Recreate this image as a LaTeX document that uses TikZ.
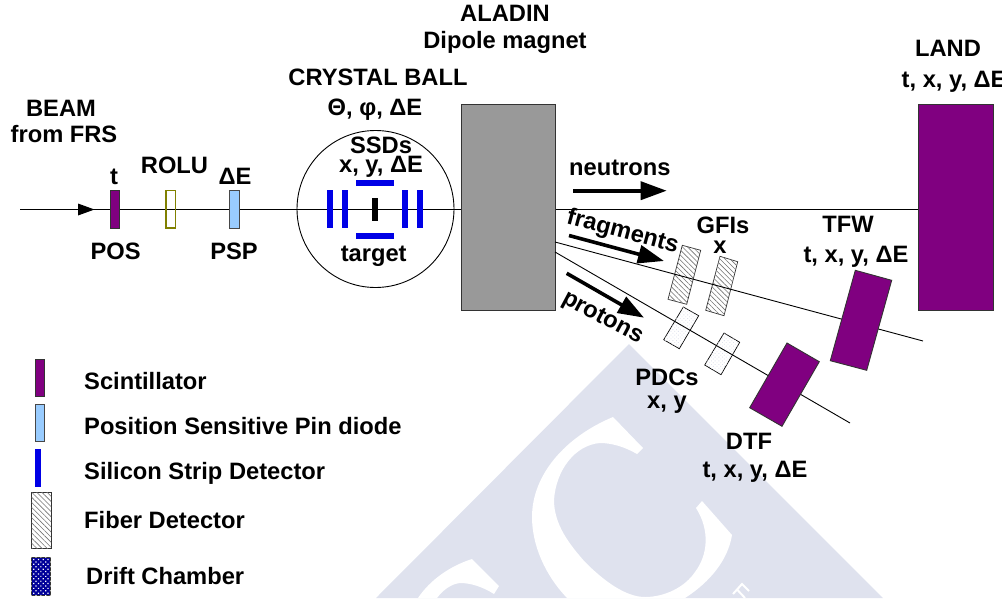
\documentclass[tikz,border=0pt]{standalone}
\usepackage{fontspec}
\setmainfont{Liberation Sans}[BoldFont={Liberation Sans Bold}]
\usetikzlibrary{arrows.meta,patterns,patterns.meta}
\definecolor{wm}{HTML}{DFE2EE}
\definecolor{scint}{HTML}{800080}
\definecolor{psp}{HTML}{99CCFF}
\definecolor{ssd}{HTML}{0000E6}
\definecolor{mag}{HTML}{999999}
\definecolor{rolu}{HTML}{808000}
\definecolor{edge}{HTML}{333333}
\tikzset{
  lbl/.style={font=\bfseries\fontsize{23.7}{28}\selectfont,inner sep=0pt,anchor=base,text=black},
  lbw/.style={lbl,anchor=base west},
  wire/.style={draw=black,line width=0.9pt},
  scintbox/.style={fill=scint,draw=edge,line width=0.9pt},
  pspbox/.style={fill=psp,draw=edge!90,line width=1pt},
  rolubox/.style={draw=rolu,line width=1.5pt},
  ssdbox/.style={fill=ssd,draw=none},
  magbox/.style={fill=mag,draw=edge,line width=0.9pt},
  fiberbox/.style={draw=black!80,line width=0.7pt,fill=white,postaction={pattern={Lines[angle=-45,distance=3.6pt,line width=0.6pt]},pattern color=black!55}},
  pdcbox/.style={draw=black,line width=0.7pt,fill=white,postaction={pattern={Dots[angle=45,distance=2.6pt,radius=0.6pt]},pattern color=wm}},
  driftbox/.style={draw=edge,line width=0.7pt,fill=blue!60!black,postaction={pattern={Dots[angle=45,distance=3.4pt,radius=0.85pt]},pattern color=white}},
  flow/.style={line width=3.6pt,draw=black,-{Triangle[length=26pt,width=18pt]}},
}
\begin{document}
\begin{tikzpicture}[x=1pt,y=-1pt]
\useasboundingbox (0,0) rectangle (1005,598);
% watermark
\fill[wm] (629,344) -- (376,598) -- (883,598) -- cycle;
\fill[white] (613,417) -- (643,448) -- (637,454)
  .. controls (625,447) and (612,443) .. (600,443)
  .. controls (575,445) and (556,470) .. (554,500)
  .. controls (554,525) and (570,545) .. (585,562)
  .. controls (603,580) and (625,597) .. (645,597)
  .. controls (665,597) and (685,587) .. (695,572)
  .. controls (708,555) and (710,530) .. (696,508)
  -- (702,501) -- (732,535)
  .. controls (728,560) and (710,582) .. (685,598)
  -- (567,598)
  .. controls (545,575) and (532,545) .. (532,517)
  .. controls (532,475) and (565,437) .. (613,417) -- cycle;
\fill[white] (472,559) -- (499,586) -- (494,594)
  .. controls (483,587) and (471,583) .. (460,583)
  .. controls (451,584) and (443,590) .. (437,598)
  -- (418,598) .. controls (430,580) and (450,566) .. (472,559) -- cycle;
\draw[white,line width=2pt] (733,594) -- (742,584) -- (749,591) (737,589.5) -- (745,598);
% beam lines
\coordinate (beamL) at (20,209.5);
\coordinate (magL) at (461.5,209.5);
\coordinate (magR) at (555,209.5);
\coordinate (landL) at (918,209.5);
\coordinate (fragS) at (555,242);
\coordinate (fragE) at (923,341);
\coordinate (protS) at (555,252);
\coordinate (protE) at (850,423);
\draw[wire] (beamL) -- (magL);
\draw[wire] (magR) -- (landL);
\fill[black] (78,203.5) -- (94.5,209.5) -- (78,215.5) -- cycle;
% upstream detectors
\draw[scintbox] (110,190) rectangle (119.5,228);
\draw[rolubox] (166,190.5) rectangle (175.5,228.2);
\draw[pspbox] (229.5,190.3) rectangle (239,228.2);
% crystal ball
\node[circle,draw=black,line width=0.9pt,minimum size=157pt,inner sep=0pt] (ball) at (375.5,209) {};
\fill[ssd] (326.7,190.3) rectangle (332.7,228);
\fill[ssd] (341.7,190.3) rectangle (347.7,228);
\fill[ssd] (401.7,190.3) rectangle (407.7,228);
\fill[ssd] (416.7,190.3) rectangle (422.7,228);
\fill[ssd] (356,180.3) rectangle (393.7,186.3);
\fill[ssd] (356,233) rectangle (393.7,238.7);
\fill[black] (371.7,197.7) rectangle (377.7,220.7);
% magnet and LAND
\draw[magbox] (461.5,104.5) rectangle (555,310.5);
\draw[scintbox] (918,104.5) rectangle (993,310.5);
% fibers, PDCs
\draw[fiberbox] (682.3,245.3) -- (700.7,250.3) -- (686.7,304.3) -- (668,299.3) -- cycle;
\draw[fiberbox] (720,256.3) -- (737.7,261.7) -- (724,315.7) -- (705.7,310.3) -- cycle;
\draw[pdcbox] (683.3,307) -- (698.7,315.7) -- (679.3,348.7) -- (663.7,339.7) -- cycle;
\draw[pdcbox] (724,333) -- (739.7,342.3) -- (721,374.7) -- (704.7,365) -- cycle;
\draw[wire] (fragS) -- (fragE);
\draw[wire] (protS) -- (protE);
\draw[scintbox] (855.3,270.3) -- (891.7,280.3) -- (866.7,370.3) -- (830.3,360.7) -- cycle;
\draw[scintbox] (787,343) -- (819.3,361.7) -- (782,426.3) -- (749.7,407.7) -- cycle;
% flow arrows
\draw[flow] (573,190.7) -- (666.7,190.7);
\draw[flow] (569,235.5) -- (664,261);
\draw[flow] (566.7,273.3) -- (644,317.7);
% legend
\draw[scintbox] (35,359) rectangle (44.7,396.7);
\draw[pspbox] (35,404) rectangle (44.7,441.3);
\draw[ssdbox] (35,448.7) rectangle (41,486.7);
\draw[fiberbox] (31.7,492.7) rectangle (51,548.7);
\draw[driftbox] (31.3,557.3) rectangle (50.7,595.3);
\node[lbw] (l1) at (84,389.5) {Scintillator};
\node[lbw] (l2) at (84,434) {Position Sensitive Pin diode};
\node[lbw] (l3) at (84,479) {Silicon Strip Detector};
\node[lbw] (l4) at (84,528) {Fiber Detector};
\node[lbw] (l5) at (86,584) {Drift Chamber};
% labels
\begin{scope}
\clip (0,0) rectangle (1001,598);
\node[lbl] (a1) at (61,116.5) {BEAM};
\node[lbl] (a2) at (64,142) {from FRS};
\node[lbl] (a3) at (114,184) {t};
\node[lbl] (a4) at (174.5,173.5) {ROLU};
\node[lbl] (a5) at (235,184) {ΔE};
\node[lbl] (a6) at (115.7,259) {POS};
\node[lbl] (a7) at (234,259) {PSP};
\node[lbl] (b1) at (378,85.5) {CRYSTAL BALL};
\node[lbl] (b2) at (375,115.5) {Θ, φ, ΔE};
\node[lbl] (b3) at (381,153) {SSDs};
\node[lbl] (b4) at (381,172) {x, y, ΔE};
\node[lbl] (b5) at (373.7,261) {target};
\node[lbl] (c1) at (505,21.5) {ALADIN};
\node[lbl] (c2) at (505,48.5) {Dipole magnet};
\node[lbl] (d1) at (948,56) {LAND};
\node[lbw] (d2) at (901.5,87.5) {t, x, y, ΔE};
\node[lbw] (e1) at (569,175.5) {neutrons};
\node[lbl,rotate=-15] (e2) at (621,238) {fragments};
\node[lbl,rotate=-28] (e3) at (600,323) {protons};
\node[lbl] (f1) at (723,233.5) {GFIs};
\node[lbl] (f2) at (720,253) {x};
\node[lbl] (g1) at (848,232.5) {TFW};
\node[lbl] (g2) at (856,262) {t, x, y, ΔE};
\node[lbl] (h1) at (667,385.5) {PDCs};
\node[lbl] (h2) at (667,408.5) {x, y};
\node[lbl] (i1) at (749,449) {DTF};
\node[lbl] (i2) at (755,477) {t, x, y, ΔE};
\end{scope}
\end{tikzpicture}
\end{document}
